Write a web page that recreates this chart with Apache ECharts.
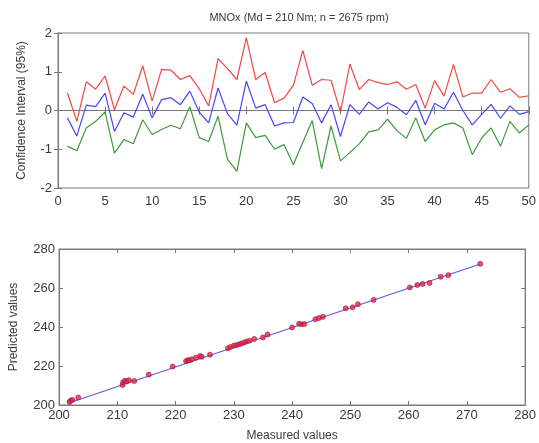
<!DOCTYPE html>
<html><head><meta charset="utf-8">
<script src="https://cdn.jsdelivr.net/npm/echarts@6/dist/echarts.min.js"></script>
<style>html,body{margin:0;padding:0;background:#fff}#c{width:539px;height:443px}</style>
</head><body><div id="c"></div>
<script>
var titleText = 'MNOx (Md = 210 Nm; n = 2675 rpm)';
var sampleIdx = [1,2,3,4,5,6,7,8,9,10,11,12,13,14,15,16,17,18,19,20,21,22,23,24,25,26,27,28,29,30,31,32,33,34,35,36,37,38,39,40,41,42,43,44,45,46,47,48,49,50];
var upperCI = [0.45,-0.28,0.74,0.55,0.89,0.02,0.63,0.42,1.15,0.24,1.06,1.04,0.8,0.9,0.56,0.12,1.34,1.08,0.8,1.88,0.8,0.98,0.2,0.32,0.65,1.55,0.65,0.8,0.78,-0.04,1.2,0.54,0.8,0.72,0.67,0.74,0.55,0.67,0.06,0.77,0.37,1.19,0.35,0.45,0.45,0.8,0.47,0.56,0.34,0.38];
var meanCI = [-0.19,-0.66,0.14,0.1,0.45,-0.54,-0.06,-0.17,0.42,-0.19,0.28,0.33,0.15,0.5,-0.04,-0.32,0.58,-0.08,-0.38,0.76,0.06,0.15,-0.4,-0.32,-0.31,0.35,0.18,-0.32,0.15,-0.67,0.15,-0.1,0.22,0.04,0.2,0.08,-0.11,0.26,-0.37,0.19,0.04,0.47,0.0,-0.37,-0.1,0.16,-0.2,0.12,-0.1,-0.03];
var lowerCI = [-0.92,-1.04,-0.45,-0.28,-0.04,-1.1,-0.75,-0.86,-0.24,-0.62,-0.49,-0.38,-0.47,0.1,-0.7,-0.8,-0.15,-1.26,-1.57,-0.32,-0.7,-0.64,-1.0,-0.88,-1.4,-0.82,-0.26,-1.5,-0.4,-1.3,-1.08,-0.86,-0.55,-0.5,-0.22,-0.52,-0.72,-0.19,-0.8,-0.5,-0.37,-0.32,-0.45,-1.14,-0.71,-0.45,-0.92,-0.28,-0.58,-0.37];
var measured = [201.8,202.0,202.3,203.3,210.9,211.0,211.3,211.6,212.0,212.9,215.4,219.5,221.8,222.1,222.4,222.8,223.5,224.2,224.5,225.9,229.0,229.4,230.0,230.4,230.9,231.3,231.8,232.2,232.7,233.5,235.0,235.8,240.0,241.2,241.6,242.1,244.0,244.6,245.3,249.2,250.4,251.3,254.0,260.2,261.5,262.4,263.6,265.5,266.8,272.3];
var predicted = [201.5,202.3,202.6,203.9,210.2,211.5,212.4,212.1,212.7,212.3,215.6,219.7,222.5,223.0,222.9,223.4,224.2,225.1,224.7,225.8,229.1,229.7,230.4,230.7,231.1,231.5,232.1,232.6,233.0,233.9,234.6,236.1,239.8,241.7,241.4,241.5,244.0,244.6,245.2,249.6,250.1,251.7,253.9,260.3,261.6,262.1,262.6,265.8,266.6,272.4];
var fitLine = [[201.7,201.0],[272.3,272.3]];
var topXTicks = {min:0,max:50,interval:5};
var topYTicks = {min:-2,max:2,interval:1};
var botXTicks = {min:200,max:280,interval:10};
var botYTicks = {min:200,max:280,interval:20};

var FONT = 'Liberation Sans';
var TXT = '#3a3a3a';
var AX = '#7a7a7a';
function axisBase(r, show){
  return {
    type:'value', min:r.min, max:r.max, interval:r.interval,
    axisLine:{show:true,lineStyle:{color:AX,width:1}},
    axisTick:{show:true,inside:true,length:4,lineStyle:{color:AX}},
    axisLabel:{show:show,color:TXT,fontFamily:FONT,fontSize:13},
    splitLine:{show:false}
  };
}
function mk(r, gi, pos, show, extra){
  var a = axisBase(r, show); a.gridIndex = gi; a.position = pos;
  for (var k in extra) a[k] = extra[k];
  return a;
}
var xAxes = [
  mk(topXTicks,0,'bottom',true,{axisLabel:{color:TXT,fontFamily:FONT,fontSize:13,margin:7}}),
  mk(topXTicks,0,'top',false,{}),
  mk(botXTicks,1,'bottom',true,{axisLabel:{color:TXT,fontFamily:FONT,fontSize:13,margin:4},
     name:'Measured values',nameLocation:'middle',nameGap:25,nameTextStyle:{color:TXT,fontFamily:FONT,fontSize:12}}),
  mk(botXTicks,1,'top',false,{})
];
var yAxes = [
  mk(topYTicks,0,'left',true,{axisLabel:{color:TXT,fontFamily:FONT,fontSize:13,margin:6},
     name:'Confidence Interval (95%)',nameLocation:'middle',nameGap:30,nameTextStyle:{color:TXT,fontFamily:FONT,fontSize:12}}),
  mk(topYTicks,0,'right',false,{}),
  mk(botYTicks,1,'left',true,{axisLabel:{color:TXT,fontFamily:FONT,fontSize:13,margin:4},
     name:'Predicted values',nameLocation:'middle',nameGap:39,nameTextStyle:{color:TXT,fontFamily:FONT,fontSize:12}}),
  mk(botYTicks,1,'right',false,{})
];
function pairs(xs, ys){ return xs.map(function(x,i){return [x, ys[i]];}); }
function lineSeries(data, color){
  return {type:'line',xAxisIndex:0,yAxisIndex:0,data:pairs(sampleIdx,data),symbol:'none',
    lineStyle:{color:color,width:1.2},silent:true,animation:false};
}
var chart = echarts.init(document.getElementById('c'), null, {renderer:'canvas'});
chart.setOption({
  animation:false,
  backgroundColor:'#fff',
  title:{text:titleText,left:294,textAlign:'center',top:7,textStyle:{color:TXT,fontFamily:FONT,fontSize:11,fontWeight:'normal'}},
  grid:[
    {left:58,top:33,width:472,height:155,show:true,borderColor:AX,borderWidth:1},
    {left:58,top:249,width:472,height:156,show:true,borderColor:AX,borderWidth:1}
  ],
  xAxis:xAxes,
  yAxis:yAxes,
  series:[
    lineSeries(upperCI,'#f04848'),
    lineSeries(meanCI,'#4848f0'),
    lineSeries(lowerCI,'#3c9a3c'),
    {type:'line',xAxisIndex:2,yAxisIndex:2,data:fitLine,symbol:'none',lineStyle:{color:'#5a5af0',width:1.2},z:2},
    {type:'scatter',xAxisIndex:2,yAxisIndex:2,data:pairs(measured,predicted),symbol:'circle',symbolSize:5,
      itemStyle:{color:'#f02828',borderColor:'#8a1870',borderWidth:0.8},z:3}
  ]
});
</script></body></html>
